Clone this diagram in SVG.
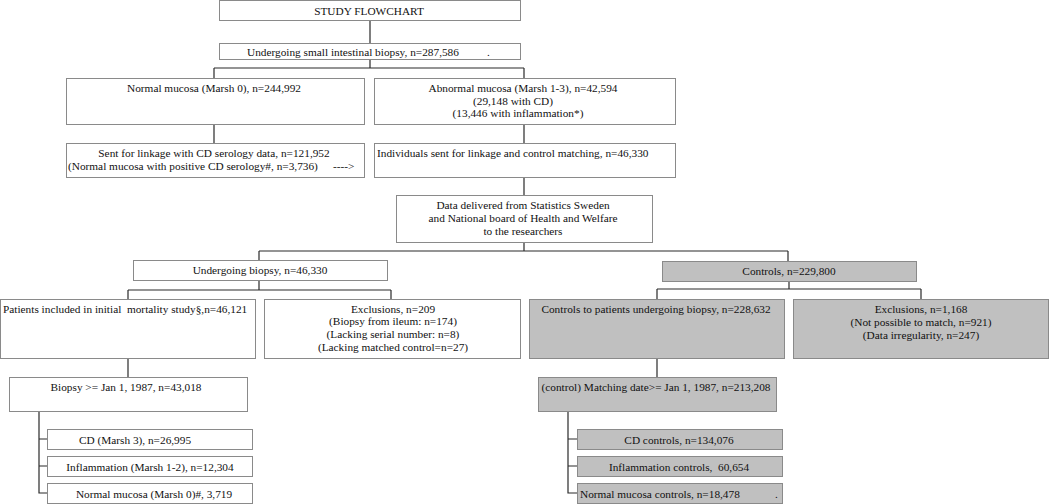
<svg xmlns="http://www.w3.org/2000/svg" width="1050" height="504" viewBox="0 0 1050 504">
<style>
.b{fill:#ffffff;stroke:#8a8a8a;stroke-width:1}
.g{fill:#c0c0c0;stroke:#8a8a8a;stroke-width:1}
.c{fill:none;stroke:#2a2a2a;stroke-width:1.2}
text{font-family:"Liberation Serif","Times New Roman",serif;font-size:11.3px;fill:#111111}
.m{text-anchor:middle}
</style>
<rect width="1050" height="504" fill="#ffffff"/>
<g id="connectors">
<path class="c" d="M370,21V43M370,59V68M214,68H524M214,68V78M524,68V78M214,124V143M524,124V143M524,177V195M524,242V251M259,251H788M259,251V260M788,251V261"/>
<path class="c" d="M259,280V290M128,290H391M128,290V299M391,290V299M789,281V289M657,289H921M657,289V299M921,289V299"/>
<path class="c" d="M128,358V377M39,411V493H47M39,439H47M39,466H47M657,358V377M568,411V493H577M568,439H577M568,466H577"/>
</g>
<g id="n1"><rect class="b" x="219.5" y="0.5" width="301" height="20"/><text class="m" x="369" y="15">STUDY FLOWCHART</text></g>
<g id="n2"><rect class="b" x="219.5" y="43.5" width="301" height="16"/><text x="247" y="55.5">Undergoing small intestinal biopsy, n=287,586</text><text x="487" y="55.5">.</text></g>
<g id="n3"><rect class="b" x="66.5" y="78.5" width="298" height="46"/><text class="m" x="214" y="92">Normal mucosa (Marsh 0), n=244,992</text></g>
<g id="n4"><rect class="b" x="374.5" y="78.5" width="301" height="46"/><text class="m" x="523" y="92">Abnormal mucosa (Marsh 1-3), n=42,594</text><text class="m" x="513" y="104.5">(29,148 with CD)</text><text class="m" x="518" y="117">(13,446 with inflammation*)</text></g>
<g id="n5"><rect class="b" x="66.5" y="143.5" width="298" height="34"/><text class="m" x="214" y="157">Sent for linkage with CD serology data, n=121,952</text><text x="68" y="170">(Normal mucosa with positive CD serology#, n=3,736)</text><text x="333" y="170">----&gt;</text></g>
<g id="n6"><rect class="b" x="374.5" y="143.5" width="301" height="34"/><text x="377" y="157">Individuals sent for linkage and control matching, n=46,330</text></g>
<g id="n7"><rect class="b" x="396.5" y="195.5" width="256" height="47"/><text class="m" x="523" y="209">Data delivered from Statistics Sweden</text><text class="m" x="523" y="222">and National board of Health and Welfare</text><text class="m" x="523" y="235">to the researchers</text></g>
<g id="n8"><rect class="b" x="133.5" y="260.5" width="254" height="20"/><text class="m" x="260" y="274">Undergoing biopsy, n=46,330</text></g>
<g id="n9"><rect class="g" x="662.5" y="261.5" width="254" height="20"/><text class="m" x="789" y="275">Controls, n=229,800</text></g>
<g id="n10"><rect class="b" x="0.5" y="299.5" width="255" height="59"/><text x="3" y="312.5" xml:space="preserve">Patients included in initial  mortality study§,n=46,121</text></g>
<g id="n11"><rect class="b" x="264.5" y="299.5" width="256" height="59"/><text class="m" x="393" y="312.5">Exclusions, n=209</text><text class="m" x="393" y="325">(Biopsy from ileum: n=174)</text><text class="m" x="393" y="338">(Lacking serial number: n=8)</text><text class="m" x="393" y="351">(Lacking matched control=n=27)</text></g>
<g id="n12"><rect class="g" x="529.5" y="299.5" width="255" height="59"/><text class="m" x="656" y="312.5">Controls to patients undergoing biopsy, n=228,632</text></g>
<g id="n13"><rect class="g" x="793.5" y="299.5" width="255" height="59"/><text class="m" x="921" y="312.5">Exclusions, n=1,168</text><text class="m" x="921" y="325.5">(Not possible to match, n=921)</text><text class="m" x="921" y="338.5">(Data irregularity, n=247)</text></g>
<g id="n14"><rect class="b" x="9.5" y="377.5" width="238" height="34"/><text class="m" x="126" y="390.5">Biopsy &gt;= Jan 1, 1987, n=43,018</text></g>
<g id="n15"><rect class="g" x="538.5" y="377.5" width="238" height="34"/><text class="m" x="656" y="390.5">(control) Matching date&gt;= Jan 1, 1987, n=213,208</text></g>
<g id="n16"><rect class="b" x="47.5" y="429.5" width="205" height="20"/><text class="m" x="135" y="443.5">CD (Marsh 3), n=26,995</text></g>
<g id="n17"><rect class="b" x="47.5" y="456.5" width="205" height="20"/><text class="m" x="150" y="470.5">Inflammation (Marsh 1-2), n=12,304</text></g>
<g id="n18"><rect class="b" x="47.5" y="483.5" width="205" height="20"/><text class="m" x="154" y="497.5">Normal mucosa (Marsh 0)#, 3,719</text></g>
<g id="n19"><rect class="g" x="577.5" y="429.5" width="205" height="20"/><text class="m" x="679" y="443.5">CD controls, n=134,076</text></g>
<g id="n20"><rect class="g" x="577.5" y="456.5" width="205" height="20"/><text class="m" x="679" y="470.5" xml:space="preserve">Inflammation controls,  60,654</text></g>
<g id="n21"><rect class="g" x="577.5" y="483.5" width="205" height="20"/><text x="580" y="497.5">Normal mucosa controls, n=18,478</text><text x="775" y="497.5">.</text></g>
</svg>
